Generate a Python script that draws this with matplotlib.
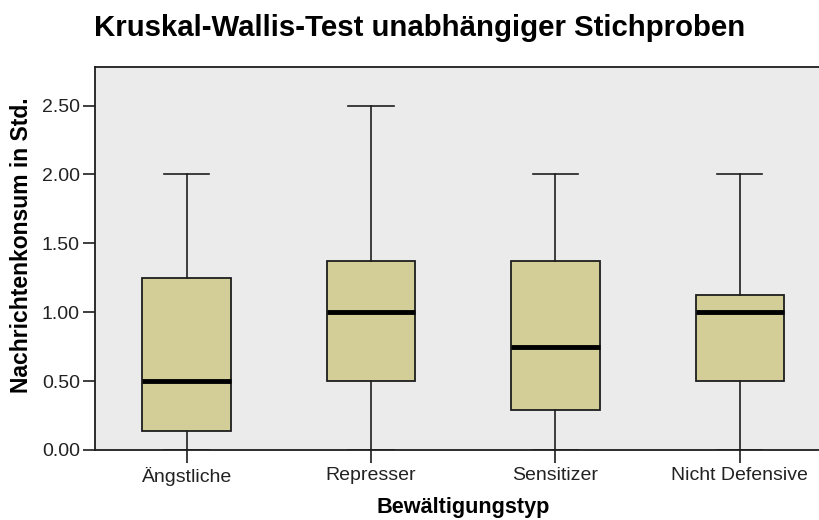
import matplotlib
matplotlib.use("Agg")
import matplotlib.pyplot as plt

plt.rcParams["font.family"] = ["Liberation Sans", "DejaVu Sans"]

# Boxplot summary values
groups = ["Ängstliche", "Represser", "Sensitizer", "Nicht Defensive"]
whisker_lo = [0.0, 0.0, 0.0, 0.0]
q1 = [0.14, 0.5, 0.29, 0.5]
median = [0.5, 1.0, 0.75, 1.0]
q3 = [1.25, 1.375, 1.375, 1.125]
whisker_hi = [2.0, 2.5, 2.0, 2.0]
yticks = [0.0, 0.5, 1.0, 1.5, 2.0, 2.5]

BOX = "#d3ce98"
BG = "#ebebeb"
EDGE = "#1e1e1e"

stats = [dict(label=g, whislo=lo, q1=a, med=m, q3=b, whishi=hi, fliers=[])
         for g, lo, a, m, b, hi in zip(groups, whisker_lo, q1, median, q3, whisker_hi)]

fig = plt.figure(figsize=(8.19, 5.2), dpi=100)
ax = fig.add_axes([94.5 / 819, 70 / 520, 737.5 / 819, 383 / 520])
ax.set_facecolor(BG)

ax.bxp(stats, positions=range(len(groups)), widths=0.48, patch_artist=True,
       showfliers=False, capwidths=0.245,
       boxprops=dict(facecolor=BOX, edgecolor=EDGE, linewidth=1.3),
       medianprops=dict(color="black", linewidth=3.5, solid_capstyle="butt"),
       whiskerprops=dict(color=EDGE, linewidth=1.2),
       capprops=dict(color=EDGE, linewidth=1.2))

ax.set_xlim(-0.5, 3.5)
ax.set_ylim(0, 2.78)
ax.set_yticks(yticks)
ax.set_yticklabels([f"{v:.2f}" for v in yticks])
ax.set_xticks(range(len(groups)))
ax.set_xticklabels(groups)
ax.tick_params(axis="both", direction="out", length=9, width=1.2, color=EDGE,
               labelsize=14, labelcolor="#222222")
ax.tick_params(axis="y", pad=1.5)
ax.tick_params(axis="x", pad=3.5)
for s in ax.spines.values():
    s.set_color(EDGE)
    s.set_linewidth(1.3)

ax.set_xlabel("Bewältigungstyp", fontsize=15.6, fontweight="bold", labelpad=8)
ax.set_ylabel("Nachrichtenkonsum in Std.", fontsize=16.5, fontweight="bold")
ax.yaxis.set_label_coords(-0.083, 0.535)

fig.text(420 / 819, 1 - 28 / 520, "Kruskal-Wallis-Test unabhängiger Stichproben",
         ha="center", va="center", fontsize=21.2, fontweight="bold")

fig.savefig("out.png", dpi=100)
